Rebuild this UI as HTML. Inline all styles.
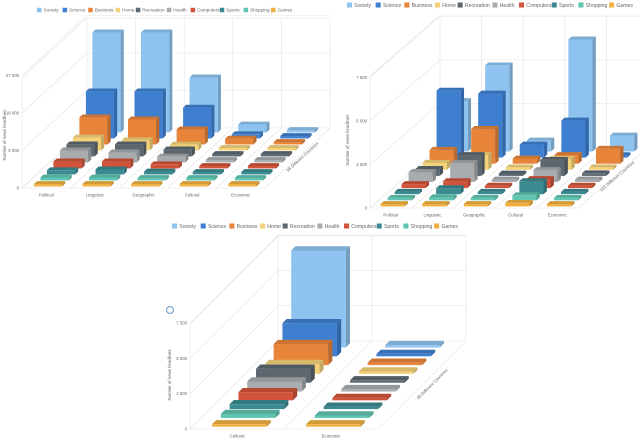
<!DOCTYPE html>
<html><head><meta charset="utf-8"><style>
html,body{margin:0;padding:0;background:#fff;}
svg{display:block;font-family:"Liberation Sans",sans-serif;}
</style></head><body>
<svg id="root" width="640" height="440" viewBox="0 0 640 440"></svg>
<script>
const seriesNames = ["Society","Science","Business","Home","Recreation","Health","Computers","Sports","Shopping","Games"];
const seriesColors = ["#8ec3f0","#3f7fcf","#e8843a","#f4d27a","#5c6770","#a8acae","#d0533a","#3a8a91","#5fc4b0","#f0b040"];
const categories1 = ["Political","Linguistic","Geographic","Cultural","Economic"];
const ticks1 = [0,9000,18000,27000];
const tickLabels1 = ["0","9 000","18 000","27 000"];
const values1 = [
 [24000,24000,13200,1900,300],
 [11300,11300,7400,1000,500],
 [6500,6000,3600,1400,500],
 [3100,2400,1400,300,300],
 [2900,2900,1700,300,300],
 [2900,2400,1400,200,200],
 [1700,1700,1000,200,200],
 [1000,1200,700,200,200],
 [700,700,500,300,300],
 [200,200,200,200,200]
];
const categories2 = ["Political","Linguistic","Geographic","Cultural","Economic"];
const ticks2 = [0,2500,5000,7500];
const tickLabels2 = ["0","2 500","5 000","7 500"];
const values2 = [
 [2900,4950,630,6440,920],
 [3850,3680,750,2130,100],
 [800,2000,300,500,860],
 [400,860,100,630,100],
 [400,1200,100,920,150],
 [570,1090,100,690,100],
 [230,400,80,520,80],
 [80,350,80,750,80],
 [80,170,80,290,80],
 [100,100,100,200,100]
];
const categories3 = ["Cultural","Economic"];
const ticks3 = [0,2500,5000,7500];
const tickLabels3 = ["0","2 500","5 000","7 500"];
const values3 = [
 [6870,60],[2340,60],[1490,60],[700,60],[990,60],[710,60],[570,60],[350,60],[280,60],[140,60]
];

const NS="http://www.w3.org/2000/svg";
const root=document.getElementById('root');
function mk(tag,attrs,parent){const e=document.createElementNS(NS,tag);for(const k in attrs)e.setAttribute(k,attrs[k]);(parent||root).appendChild(e);return e;}
function shade(hex,f){let r=parseInt(hex.substr(1,2),16),g=parseInt(hex.substr(3,2),16),b=parseInt(hex.substr(5,2),16);
 const m=c=>Math.max(0,Math.min(255,Math.round(f<1?c*f:c+(255-c)*(f-1))));return `rgb(${m(r)},${m(g)},${m(b)})`;}

function drawChart(id,cfg,cats,vals,ticks,tlabels){
 const g=mk('g',{});
 
 
 const n=cats.length;
 const P=(x,z,v)=>[cfg.x0+x*cfg.catW+z*cfg.dx, cfg.y0+z*cfg.dy-v*cfg.ppu];
 const vTop=(cfg.y0+cfg.dy-cfg.top)/cfg.ppu;
 const gridG=mk('g',{stroke:'#e4e4e4','stroke-width':0.6,fill:'none'},g);
 
 
 const line=(a,b)=>mk('line',{x1:a[0],y1:a[1],x2:b[0],y2:b[1]},gridG);
 const hv=ticks.concat([vTop]);
 hv.forEach(v=>{line(P(0,1,v),P(n,1,v));line(P(0,0,v),P(0,1,v));});
 for(let i=0;i<=n;i++){line(P(i,1,0),P(i,1,vTop));line(P(i,0,0),P(i,1,0));}
 line(P(0,0,0),P(n,0,0));line(P(0,0,0),P(0,0,vTop));
 ticks.forEach((v,i)=>{const p=P(0,0,v);
  const t=mk('text',{x:p[0]-3,y:p[1]+1.5,'font-size':cfg.fs,'text-anchor':'end',fill:'#666'},g);t.textContent=tlabels[i];
  
  });
 cats.forEach((c,i)=>{const p=P(i+0.5,0,0);
  const t=mk('text',{x:p[0],y:p[1]+cfg.fs+4,'font-size':cfg.fs,'text-anchor':'middle',fill:'#666'},g);t.textContent=c;
  
  });
 const yt=mk('text',{x:0,y:0,'font-size':cfg.fs,'text-anchor':'middle',fill:'#666',transform:`translate(${cfg.titleX},${cfg.titleY}) rotate(-90)`},g);
 yt.textContent='Number of news headlines';
 
 
 const dp=P(n+0.12,0.5,0);
 const dt=mk('text',{x:0,y:0,'font-size':cfg.fs,'text-anchor':'middle',fill:'#666',transform:`translate(${dp[0]},${dp[1]}) rotate(${Math.atan2(cfg.dy,cfg.dx)*180/Math.PI})`},g);
 dt.textContent=cfg.depthLabel;
 
 
 const ns=vals.length;
 for(let k=0;k<ns;k++){
  const row=ns-1-k;
  const zc=(row+0.5)/ns, h=0.24/ns, z1=zc-h, z2=zc+h;
  const col=seriesColors[k];
  for(let i=0;i<n;i++){
   let v=vals[k][i];
   const vd=Math.max(v,2.4/cfg.ppu);
   const xl=i+0.5-0.29, xr=i+0.5+0.29;
   const bg=mk('g',{},g);
   
   
   const pts=a=>a.map(p=>p.join(',')).join(' ');
   mk('polygon',{points:pts([P(xr,z1,0),P(xr,z2,0),P(xr,z2,vd),P(xr,z1,vd)]),fill:shade(col,0.8)},bg);
   mk('polygon',{points:pts([P(xl,z1,vd),P(xr,z1,vd),P(xr,z2,vd),P(xl,z2,vd)]),fill:shade(col,0.88)},bg);
   const a=P(xl,z1,vd),b=P(xr,z1,0);
   mk('rect',{x:a[0],y:a[1],width:b[0]-a[0],height:b[1]-a[1],fill:col},bg);
  }
 }
 const lg=mk('g',{},g);
 
 
 let lx=cfg.legX;
 seriesNames.forEach((s,k)=>{
  const it=mk('g',{},lg);
  
  
  const sq=cfg.legS*4.5;
  mk('rect',{x:lx,y:cfg.legY-sq/2,width:sq,height:sq,fill:seriesColors[k]},it);
  const t=mk('text',{x:lx+sq+2*cfg.legS,y:cfg.legY+1.6*cfg.legS,'font-size':4.6*cfg.legS,fill:'#666'},it);t.textContent=s;
  lx+=(13+1.8*s.length)*cfg.legS;
 });
}

drawChart('chart-1',{x0:22,y0:188,catW:48.6,dx:65,dy:-60,ppu:37.5/9000,top:18,fs:4.3,titleX:6,titleY:135,depthLabel:'98 Different Countries',legX:37,legY:10,legS:1.0},categories1,values1,ticks1,tickLabels1);
drawChart('chart-2',{x0:370,y0:208,catW:41.6,dx:70,dy:-61,ppu:43.5/2500,top:15,fs:4.3,titleX:349,titleY:140,depthLabel:'105 Different Countries',legX:347,legY:5,legS:1.12},categories2,values2,ticks2,tickLabels2);
drawChart('chart-3',{x0:190,y0:429,catW:94,dx:88,dy:-88,ppu:35.3/2500,top:236,fs:4.3,titleX:171,titleY:375,depthLabel:'98 Different Countries',legX:172,legY:226,legS:1.12},categories3,values3,ticks3,tickLabels3);

const ic=mk('circle',{cx:170,cy:310,r:3.5,fill:'#fff',stroke:'#7aa7d6','stroke-width':1.2});


</script>
</body></html>
